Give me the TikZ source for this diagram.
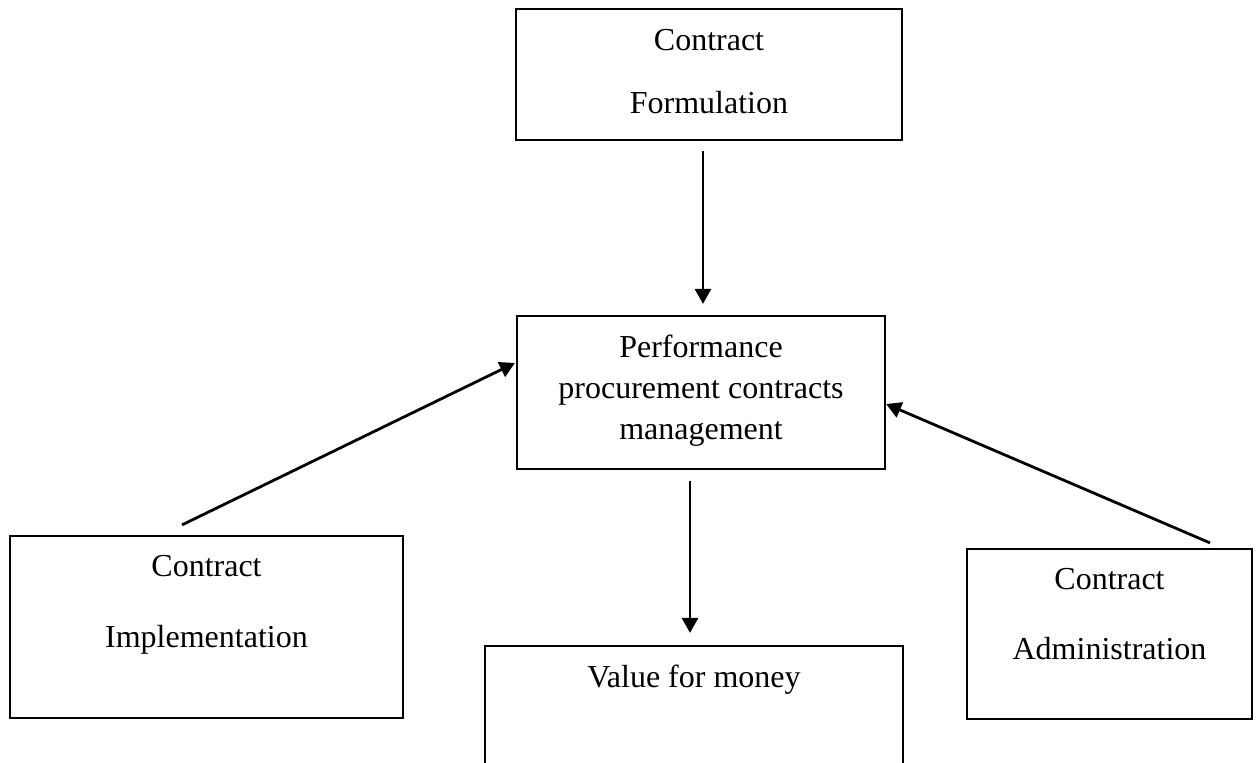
\documentclass[tikz,border=0pt]{standalone}
\usepackage{fontspec}
\setmainfont{Liberation Serif}
\usetikzlibrary{arrows.meta,calc}
\begin{document}
\begin{tikzpicture}[x=1pt,y=-1pt,
  box/.style={draw, line width=2.2pt, inner sep=0pt},
  txt/.style={anchor=base, inner sep=0pt, font=\fontsize{32}{38}\selectfont},
  arr/.style={line width=2.8pt, -{Triangle[length=15pt,width=16pt]}}]
\useasboundingbox (0,0) rectangle (1259,763);
\clip (0,0) rectangle (1259,763);
\fill[white] (0,0) rectangle (1259,763);
% boxes
\node[box, minimum width=386pt, minimum height=131pt] (form) at (709,74.5) {};
\node[box, minimum width=368pt, minimum height=153pt] (pm) at (701,392.5) {};
\node[box, minimum width=393pt, minimum height=182pt] (impl) at (206.5,627) {};
\node[box, minimum width=285pt, minimum height=170pt] (admin) at (1109.5,634) {};
\node[box, minimum width=418pt, minimum height=144pt] (vfm) at (694,718) {};
% texts
\node[txt] (form1) at (709,50) {Contract};
\node[txt] (form2) at (709,113) {Formulation};
\node[txt] (pm1) at (701,357) {Performance};
\node[txt] (pm2) at (701,398) {procurement contracts};
\node[txt] (pm3) at (701,439) {management};
\node[txt] (impl1) at (206.5,576) {Contract};
\node[txt] (impl2) at (206.5,647) {Implementation};
\node[txt] (admin1) at (1109.5,589) {Contract};
\node[txt] (admin2) at (1109.5,659) {Administration};
\node[txt] (vfm1) at (694,687) {Value for money};
% arrows
\draw[arr] ([shift={(-6pt,-10pt)}]form.south) -- ([shift={(2pt,11pt)}]pm.north);
\draw[arr] ([shift={(-24.5pt,10pt)}]impl.north) -- ([shift={(-1pt,29.5pt)}]pm.west);
\draw[arr] ([shift={(100.5pt,5pt)}]admin.north) -- ([shift={(0pt,-11.5pt)}]pm.east);
\draw[arr] ([shift={(-11pt,-11pt)}]pm.south) -- ([shift={(-4pt,12pt)}]vfm.north);
\end{tikzpicture}
\end{document}
